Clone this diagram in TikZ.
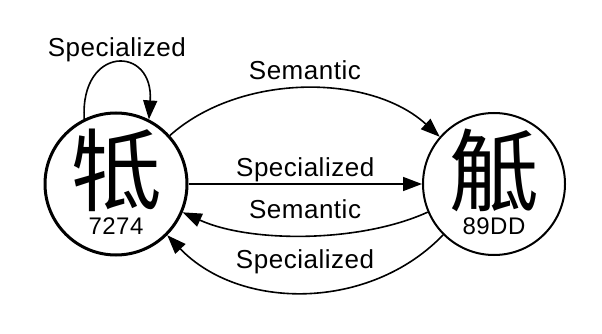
\documentclass[tikz,border=0pt]{standalone}
\usepackage{fontspec}
\setmainfont{Liberation Sans}
\newfontfamily\cjk{Noto Sans CJK SC}
\usetikzlibrary{arrows.meta}
\tikzset{
  state/.style={circle, draw, minimum size=142pt, inner sep=0pt},
  edge/.style={line width=1.6pt, -{Triangle[length=19pt,width=14pt]}},
  lbl/.style={font=\fontsize{26}{26}\selectfont\addfontfeature{LetterSpace=2}, anchor=base, inner sep=0pt},
  glyph/.style={font=\cjk\fontsize{90}{90}\selectfont, inner sep=0pt},
  code/.style={font=\fontsize{24}{24}\selectfont\addfontfeature{LetterSpace=2}, anchor=base, inner sep=0pt}
}
\begin{document}
\begin{tikzpicture}[x=1pt, y=-1pt]
\useasboundingbox (0,0) rectangle (602,334);
\node[state, line width=3pt] (L) at (116,184) {};
\node[state, line width=2pt] (R) at (494,184) {};
\node[glyph] (gl) at (116,170) {牴};
\node[code] (cl) at (116,234) {7274};
\node[glyph] (gr) at (494,170) {觝};
\node[code] (cr) at (494,234) {89DD};
% self loop
\draw[edge] (L.116) .. controls (80,45) and (154,45) .. (L.63)
  node[lbl, pos=0.5, yshift=7pt] {Specialized};
% top semantic
\draw[edge] (L.42) .. controls (240,73) and (370,73) .. (R.139)
  node[lbl, pos=0.5, yshift=9.5pt] {Semantic};
% middle specialized
\draw[edge] (L.east) -- (R.west)
  node[lbl, pos=0.5, yshift=8pt] {Specialized};
% lower semantic
\draw[edge] (R.203) .. controls (360,243) and (250,243) .. (L.337)
  node[lbl, pos=0.5, yshift=17pt] {Semantic};
% bottom specialized
\draw[edge] (R.225) .. controls (370,311) and (240,311) .. (L.315)
  node[lbl, pos=0.5, yshift=24pt] {Specialized};
\end{tikzpicture}
\end{document}
